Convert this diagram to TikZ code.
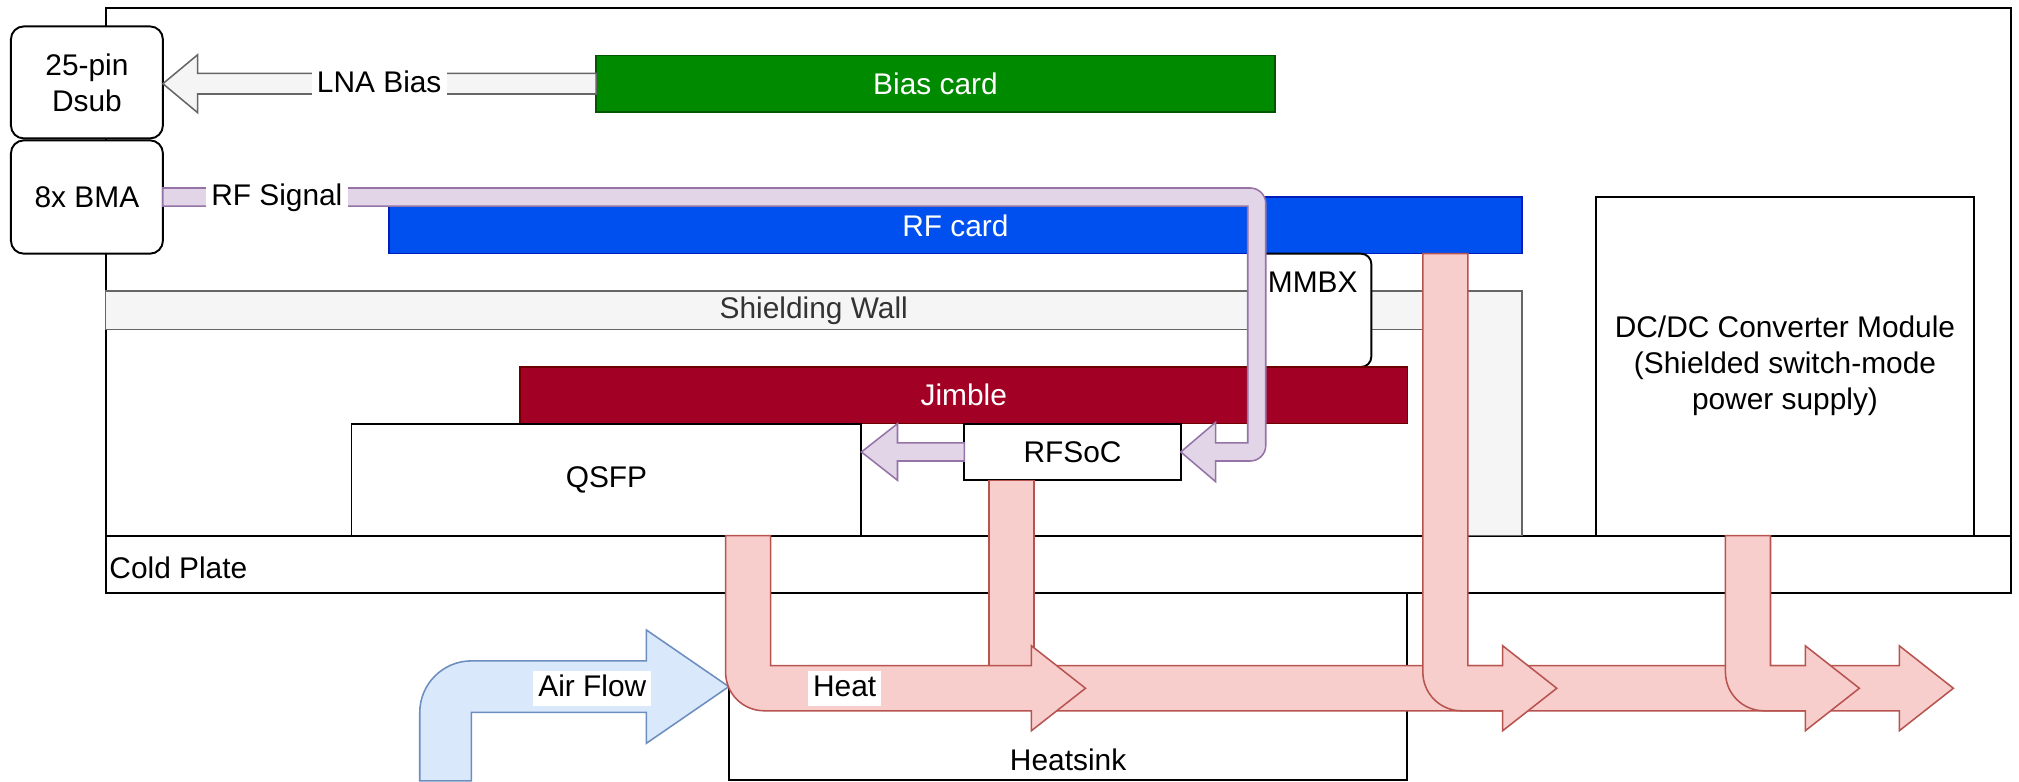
\documentclass[tikz,border=0pt]{standalone}
\usepackage{fontspec}
\setmainfont{Liberation Sans}
\usepackage{tikz}
\usetikzlibrary{calc}
\definecolor{biasfill}{HTML}{008A00}
\definecolor{biasline}{HTML}{005700}
\definecolor{rffill}{HTML}{0050EF}
\definecolor{rfline}{HTML}{001DBC}
\definecolor{jimfill}{HTML}{A20025}
\definecolor{jimline}{HTML}{6F0000}
\definecolor{wallfill}{HTML}{F5F5F5}
\definecolor{wallline}{HTML}{666666}
\definecolor{walltext}{HTML}{333333}
\definecolor{sigfill}{HTML}{E1D5E7}
\definecolor{sigline}{HTML}{9673A6}
\definecolor{heatfill}{HTML}{F8CECC}
\definecolor{heatline}{HTML}{B85450}
\definecolor{airfill}{HTML}{DAE8FC}
\definecolor{airline}{HTML}{6C8EBF}

% bent heat path: down from #1, then right to the tip #2
\newcommand{\heatbend}[2]{%
    \draw[heat] ($(#1)+(-17.5,0)$)
        -- ($(#1 |- #2)+(-17.5,-12.5)$)
        .. controls ($(#1 |- #2)+(-17.5,4.1)$) and ($(#1 |- #2)+(-4.1,17.5)$) .. ($(#1 |- #2)+(12.5,17.5)$)
        -- ($(#2)+(-42,17.5)$) -- ($(#2)+(-42,33)$) -- (#2)
        -- ($(#2)+(-42,-33)$) -- ($(#2)+(-42,-17.5)$)
        -- ($(#1 |- #2)+(17.5,-17.5)$) -- ($(#1)+(17.5,0)$) -- cycle;}

\begin{document}
\begin{tikzpicture}[
    x=0.5pt, y=-0.5pt,
    every node/.style={font=\fontsize{11.6}{14}\selectfont, inner sep=0pt, outer sep=0pt},
    box/.style={rectangle, draw=black, fill=white, line width=0.75pt, align=center},
    port/.style={box, rounded corners=5pt},
    card/.style={rectangle, line width=0.6pt, text=white, minimum height=22pt},
    wall/.style={fill=wallfill, draw=wallline, line width=0.6pt},
    lna/.style={fill=wallfill, draw=wallline, line width=0.6pt},
    sig/.style={fill=sigfill, draw=sigline, line width=0.6pt},
    heat/.style={fill=heatfill, draw=heatline, line width=0.6pt},
    air/.style={fill=airfill, draw=airline, line width=0.6pt},
    lbl/.style={fill=white, inner xsep=2pt, inner ysep=1pt, text height=9pt, text depth=2.5pt},
]
\useasboundingbox (0,0) rectangle (1568,607);

% Enclosure and cold plate
\node[box, minimum width=740pt, minimum height=227pt] (encl) at (822,233.5) {};
\node[box, minimum width=740pt, minimum height=22.25pt] (cold) at (822,438.25) {};
\node[anchor=west] (coldlbl) at ($(cold.west)+(3,3)$) {Cold Plate};

% Shielding wall
\draw[wall] (82,226) -- (1182,226) -- (1182,416) -- (1125,416) -- (1125,256) -- (82,256) -- cycle;
\node[text=walltext] (shieldlbl) at (632,241) {Shielding Wall};

% Front panel connectors
\node[port, minimum width=59pt, minimum height=43.5pt] (dsub) at (67.5,64) {25-pin\\Dsub};
\node[port, minimum width=59pt, minimum height=44pt] (bma) at (67.5,153) {8x BMA};

% Boards and modules
\node[card, fill=biasfill, draw=biasline, minimum width=263.5pt] (bias) at (726.5,65) {Bias card};
\node[card, fill=rffill, draw=rfline, minimum width=440pt] (rfcard) at (742,175) {RF card};
\node[port, rounded corners=4pt, minimum width=45.5pt, minimum height=44pt] (mmbx) at (1019.5,241) {};
\node (mmbxlbl) at ($(mmbx.north)+(0,22)$) {MMBX};
\node[card, fill=jimfill, draw=jimline, minimum width=344.5pt] (jimble) at (748.5,307) {Jimble};
\node[box, minimum width=198pt, minimum height=43.5pt] (qsfp) at (471,372.5) {QSFP};
\node[box, minimum width=84pt, minimum height=22pt] (rfsoc) at (833,351) {RFSoC};
\node[box, minimum width=146.75pt, minimum height=131.65pt] (dcdc) at (1386.25,284.35)
    {DC/DC Converter Module\\(Shielded switch-mode\\power supply)};
\node[box, minimum width=263.5pt, minimum height=72.75pt] (heatsink) at (829.5,533.25) {};
\node (sinklbl) at ($(heatsink.south)+(0,-16)$) {Heatsink};

% Flow end points
\coordinate (lnatip) at (bias.west -| dsub.east);
\coordinate (rfturn) at (976,153);
\coordinate (rfdown) at (rfturn |- rfsoc.east);
\coordinate (soctip) at (rfsoc.west -| qsfp.east);
\coordinate (qsfpheat) at (581,416);
\coordinate (socheat) at (785.5,373);
\coordinate (rfheat) at (1122.5,197);
\coordinate (dcheat) at (1357.5,416);
\coordinate (heatA) at (843,534.5);
\coordinate (heatC) at (1209,534.5);
\coordinate (heatD) at (1444,534.5);
\coordinate (heatE0) at (815,534.5);
\coordinate (heatE) at (1517,534.5);
\coordinate (airin) at (346,606.5);

% LNA bias
\draw[lna] ($(bias.west)+(0,-8)$) -- ($(lnatip)+(27,-8)$) -- ($(lnatip)+(27,-22.5)$) -- (lnatip)
    -- ($(lnatip)+(27,22.5)$) -- ($(lnatip)+(27,8)$) -- ($(bias.west)+(0,8)$) -- cycle;

% RF signal
\draw[sig] ($(bma.east)+(0,-7)$) -- ($(rfturn)+(-5,-7)$)
    .. controls ($(rfturn)+(1.6,-7)$) and ($(rfturn)+(7,-1.6)$) .. ($(rfturn)+(7,5)$)
    -- ($(rfdown)+(7,-5)$)
    .. controls ($(rfdown)+(7,1.6)$) and ($(rfdown)+(1.6,7)$) .. ($(rfdown)+(-5,7)$)
    -- ($(rfsoc.east)+(27,7)$) -- ($(rfsoc.east)+(27,23)$) -- (rfsoc.east)
    -- ($(rfsoc.east)+(27,-23)$) -- ($(rfsoc.east)+(27,-7)$)
    -- ($(rfdown)+(-7,-7)$) -- ($(rfturn)+(-7,7)$) -- ($(bma.east)+(0,7)$) -- cycle;
\draw[sig] ($(rfsoc.west)+(0,-7)$) -- ($(soctip)+(28,-7)$) -- ($(soctip)+(28,-22)$) -- (soctip)
    -- ($(soctip)+(28,22)$) -- ($(soctip)+(28,7)$) -- ($(rfsoc.west)+(0,7)$) -- cycle;

% Air flow
\draw[air] ($(airin)+(-20,0)$) -- ($(airin |- heatsink.west)+(-20,20)$)
    .. controls ($(airin |- heatsink.west)+(-20,-2)$) and ($(airin |- heatsink.west)+(-2,-20)$)
    .. ($(airin |- heatsink.west)+(20,-20)$)
    -- ($(heatsink.west)+(-64,-20)$) -- ($(heatsink.west)+(-64,-44)$) -- (heatsink.west)
    -- ($(heatsink.west)+(-64,44)$) -- ($(heatsink.west)+(-64,20)$)
    -- ($(airin |- heatsink.west)+(20,20)$) -- ($(airin)+(20,0)$) -- cycle;

% Heat paths
\draw[heat] ($(heatE0)+(0,-17.5)$) -- ($(heatE)+(-42,-17.5)$) -- ($(heatE)+(-42,-33)$) -- (heatE)
    -- ($(heatE)+(-42,33)$) -- ($(heatE)+(-42,17.5)$) -- ($(heatE0)+(0,17.5)$) -- cycle;
\draw[heat] ($(socheat)+(-17.5,0)$) rectangle ($(socheat |- heatA)+(17.5,-17.5)$);
\heatbend{qsfpheat}{heatA}
\heatbend{rfheat}{heatC}
\heatbend{dcheat}{heatD}

% Labels on the flows
\node[lbl] (lnalbl) at (294.5,65) {LNA Bias};
\node[lbl] (rflbl) at (215,153) {RF Signal};
\node[lbl] (airlbl) at (460,534.5) {Air Flow};
\node[lbl] (heatlbl) at (656,534.5) {Heat};

\end{tikzpicture}
\end{document}
